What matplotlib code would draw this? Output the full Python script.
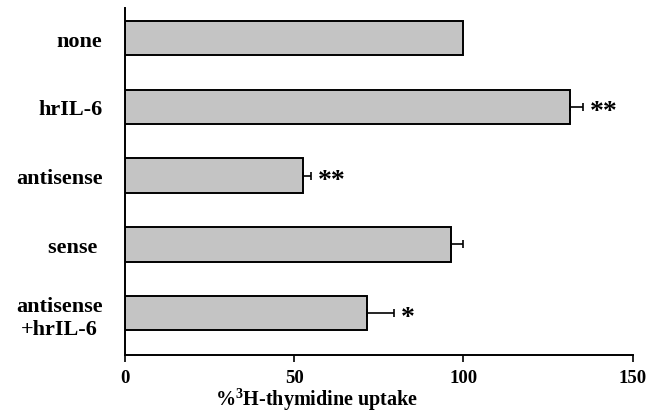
import matplotlib
matplotlib.use("Agg")
import matplotlib.pyplot as plt

# data
categories = ["none", "hrIL-6", "antisense", "sense ", "antisense\n+hrIL-6"]
uptake = [100, 131.4, 52.6, 96.3, 71.6]
sem = [0, 3.8, 2.5, 3.7, 8.0]
stars = ["", "**", "**", "", "*"]

plt.rcParams['font.family'] = ['Liberation Serif', 'DejaVu Serif']
plt.rcParams['font.weight'] = 'bold'
plt.rcParams['mathtext.fontset'] = 'custom'
plt.rcParams['mathtext.rm'] = 'Liberation Serif:bold'
plt.rcParams['mathtext.bf'] = 'Liberation Serif:bold'

fig = plt.figure(figsize=(6.64, 4.14), dpi=100)
ax = fig.add_axes([0.188, 0.140, 0.765, 0.838])

pos = list(range(len(categories)))
ax.barh(pos, uptake, height=0.5, color='#c4c4c4', edgecolor='black', linewidth=1.4)

# one-sided error bars (only positive side)
for y, v, e in zip(pos, uptake, sem):
    if e > 0:
        ax.errorbar(v, y, xerr=[[0], [e]], fmt='none', ecolor='black',
                    elinewidth=1.2, capsize=3, capthick=1.2)

# significance marks
for y, v, e, s in zip(pos, uptake, sem, stars):
    if s:
        ax.text(v + e + 2, y + 0.07, s, fontsize=20, fontweight='bold',
                va='center', ha='left')

ax.set_xlim(0, 150)
ax.set_ylim(4.61, -0.435)
ax.set_xticks([0, 50, 100, 150])
ax.set_yticks(pos)
ax.set_yticklabels(categories, fontsize=16, fontweight='bold', ha='right',
                   multialignment='center')
ax.tick_params(axis='y', length=0, pad=16)
ax.tick_params(axis='x', direction='out', length=5, width=1.2, labelsize=13.5, pad=5)
for lbl in ax.get_xticklabels():
    lbl.set_fontweight('bold')

ax.spines['top'].set_visible(False)
ax.spines['right'].set_visible(False)
ax.spines['left'].set_linewidth(1.4)
ax.spines['bottom'].set_linewidth(1.4)

ax.set_xlabel(r'%$^{3}$H-thymidine uptake', fontsize=14.5, fontweight='bold')
ax.xaxis.set_label_coords(0.378, -0.087)

fig.savefig("out.png", dpi=100)
